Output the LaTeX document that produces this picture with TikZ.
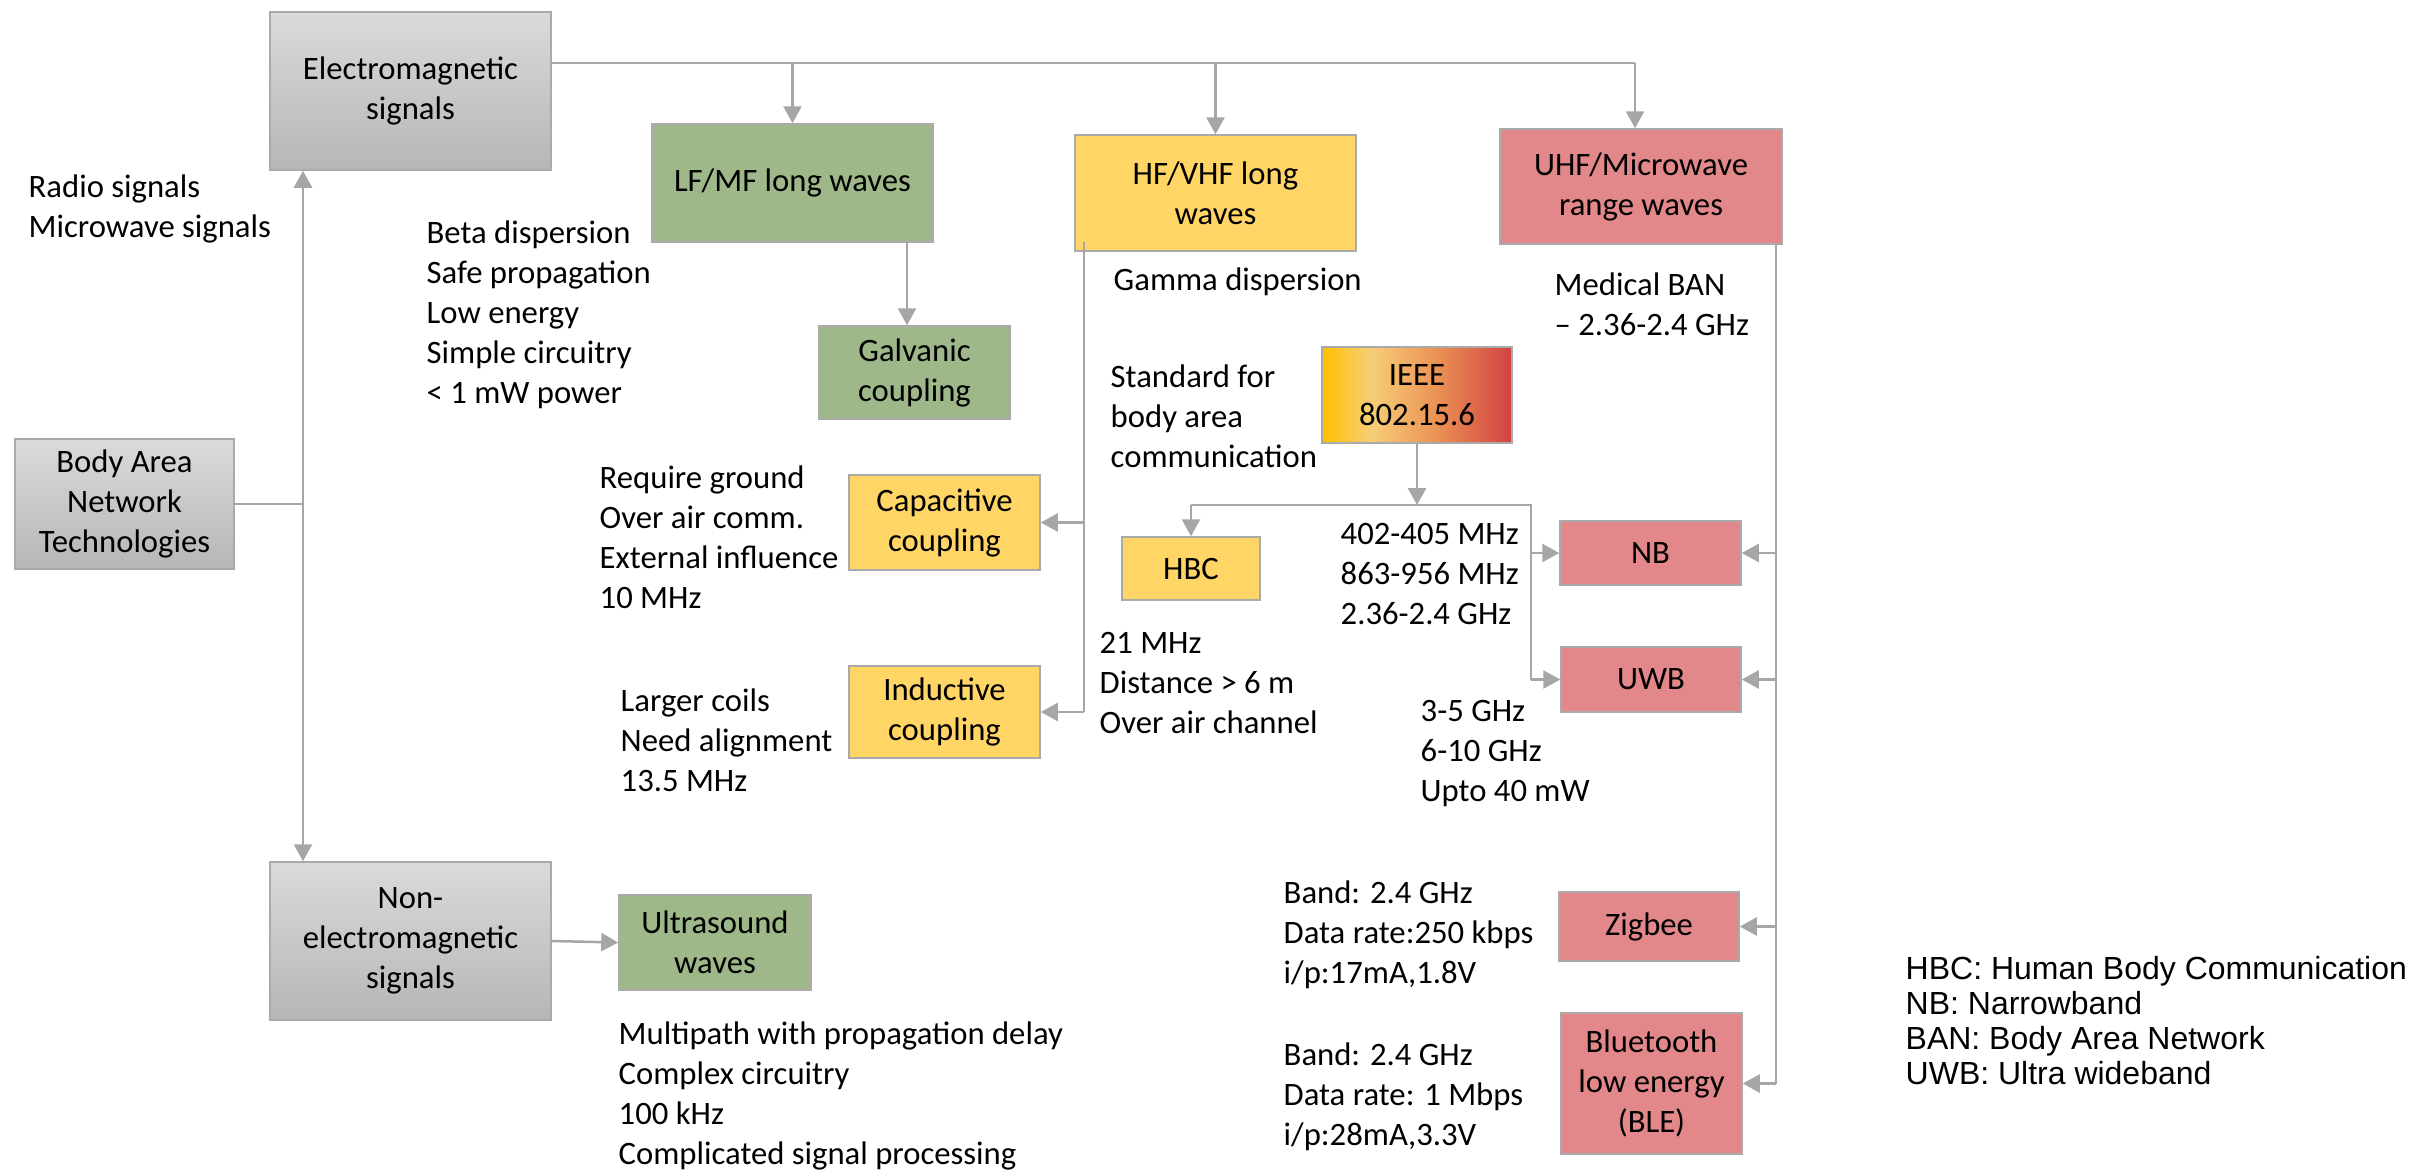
\documentclass[tikz,border=0pt]{standalone}
\usepackage{fontspec}
\setmainfont{Carlito}
\newfontfamily\legendfont{Liberation Sans}
\usetikzlibrary{arrows.meta,calc}
\definecolor{lc}{RGB}{166,166,166}
\definecolor{bd}{RGB}{170,170,170}
\definecolor{gtop}{RGB}{218,218,218}
\definecolor{gbot}{RGB}{182,182,182}
\definecolor{grn}{RGB}{158,184,137}
\definecolor{ylw}{RGB}{255,214,102}
\definecolor{rd}{RGB}{227,136,138}
\definecolor{ieeeA}{RGB}{255,192,0}
\definecolor{ieeeB}{RGB}{247,206,120}
\definecolor{ieeeC}{RGB}{234,146,84}
\definecolor{ieeeD}{RGB}{210,66,66}
\pgfdeclarehorizontalshading{ieeeshade}{100bp}{color(0bp)=(ieeeA); color(25bp)=(ieeeA); color(38bp)=(ieeeB); color(55bp)=(ieeeC); color(75bp)=(ieeeD); color(100bp)=(ieeeD)}
\begin{document}
\begin{tikzpicture}[x=0.1mm,y=-0.1mm,
  bodyfont/.style={font=\fontsize{9.3pt}{11.38pt}\selectfont},
  box/.style={draw=bd, line width=0.15mm, align=center, inner sep=0pt, bodyfont, text=black},
  gbox/.style={box, top color=gtop, bottom color=gbot},
  gnbox/.style={box, fill=grn},
  ybox/.style={box, fill=ylw},
  rbox/.style={box, fill=rd},
  txt/.style={anchor=west, align=left, inner sep=0pt, bodyfont, text=black},
  lgd/.style={anchor=west, align=left, inner sep=0pt, font=\legendfont\fontsize{9.1pt}{9.96pt}\selectfont, text=black},
  ln/.style={draw=lc, line width=0.25mm},
  arr/.style={ln, -{Triangle[length=1.7mm,width=1.8mm]}, color=lc}
]
\fill[white] (0,0) rectangle (2412,1173);
\useasboundingbox (0,0) rectangle (2412,1173);

% boxes
\node[gbox, minimum width=28.1mm, minimum height=15.8mm] (em) at (410.5,91) {Electromagnetic\\signals};
\node[gbox, minimum width=21.9mm, minimum height=13mm] (ban) at (124.5,504) {Body Area\\Network\\Technologies};
\node[gbox, minimum width=28.1mm, minimum height=15.8mm] (nem) at (410.5,941) {Non-\\electromagnetic\\signals};
\node[gnbox, minimum width=28.1mm, minimum height=11.8mm] (lfmf) at (792.5,183) {LF/MF long waves};
\node[ybox, minimum width=28.1mm, minimum height=11.6mm] (hf) at (1215.5,193) {HF/VHF long\\waves};
\node[rbox, minimum width=28.2mm, minimum height=11.5mm] (uhf) at (1641,186.5) {UHF/Microwave\\range waves};
\node[gnbox, minimum width=19.1mm, minimum height=9.3mm] (galv) at (914.5,372.5) {Galvanic\\coupling};
\node[ybox, minimum width=19.1mm, minimum height=9.5mm] (cap) at (944.5,522.5) {Capacitive\\coupling};
\node[ybox, minimum width=19.1mm, minimum height=9.2mm] (ind) at (944.5,712) {Inductive\\coupling};
\node[box, shade, shading=ieeeshade, minimum width=19mm, minimum height=9.6mm] (ieee) at (1417,395) {IEEE\\802.15.6};
\node[ybox, minimum width=13.8mm, minimum height=6.3mm] (hbc) at (1191,568.5) {HBC};
\node[rbox, minimum width=18.1mm, minimum height=6.4mm] (nb) at (1650.5,553) {NB};
\node[rbox, minimum width=18mm, minimum height=6.5mm] (uwb) at (1651,679.5) {UWB};
\node[rbox, minimum width=18mm, minimum height=6.9mm] (zig) at (1649,926.5) {Zigbee};
\node[rbox, minimum width=18.1mm, minimum height=14.1mm] (ble) at (1651.5,1083.5) {Bluetooth\\low energy\\(BLE)};
\node[gnbox, minimum width=19.2mm, minimum height=9.5mm] (us) at (715,942.5) {Ultrasound\\waves};

% texts
\node[txt] (t1) at (28,209) {Radio signals\\Microwave signals};
\node[txt] (t2) at (426,315) {Beta dispersion\\Safe propagation\\Low energy\\Simple circuitry\\< 1 mW power};
\node[txt] (t3) at (1113,282) {Gamma dispersion};
\node[txt] (t4) at (1554,304) {Medical BAN\\– 2.36-2.4 GHz};
\node[txt] (t5) at (1110,416) {Standard for\\body area\\communication};
\node[txt] (t6) at (599,537) {Require ground\\Over air comm.\\External influence\\10 MHz};
\node[txt] (t7) at (1340,574) {402-405 MHz\\863-956 MHz\\2.36-2.4 GHz};
\node[txt] (t8) at (1099,683) {21 MHz\\Distance > 6 m\\Over air channel};
\node[txt] (t9) at (620,740) {Larger coils\\Need alignment\\13.5 MHz};
\node[txt] (t10) at (1420,754) {3-5 GHz\\6-10 GHz\\Upto 40 mW};
\node[txt] (t11) at (1283,935) {Band: 2.4 GHz\\Data rate:250 kbps\\i/p:17mA,1.8V};
\node[txt] (t12) at (1283,1097) {Band: 2.4 GHz\\Data rate: 1 Mbps\\i/p:28mA,3.3V};
\node[txt] (t13) at (618,1096) {Multipath with propagation delay\\Complex circuitry\\100 kHz\\Complicated signal processing};
\node[lgd] (lg) at (1905,1021) {HBC: Human Body Communication\\NB: Narrowband\\BAN: Body Area Network\\UWB: Ultra wideband};

% connectors
\coordinate (j1) at (303,506);
\draw[ln] (ban.east) -- (ban.east -| j1);
\draw[arr] (j1) -- (j1 |- em.south);
\draw[arr] (j1) -- (j1 |- nem.north);

\coordinate (tl) at (1635,63);
\draw[ln] (em.east |- tl) -- (tl);
\draw[arr] (lfmf.north |- tl) -- (lfmf.north);
\draw[arr] (hf.north |- tl) -- (hf.north);
\draw[arr] (tl) -- (tl |- uhf.north);

\coordinate (g1) at (907,0);
\draw[arr] (lfmf.south -| g1) -- (galv.north -| g1);

\coordinate (h1) at (1084,242);
\draw[ln] (h1) -- (h1 |- ind.east);
\draw[arr] (h1 |- cap.east) -- (cap.east);
\draw[arr] (h1 |- ind.east) -- (ind.east);

\coordinate (i2) at (1531,505);
\draw[arr] (ieee.south) -- (ieee.south |- i2);
\draw[ln] (hbc.north |- i2) -- (i2) -- (i2 |- uwb.west);
\draw[arr] (hbc.north |- i2) -- (hbc.north);
\draw[arr] (i2 |- nb.west) -- (nb.west);
\draw[arr] (i2 |- uwb.west) -- (uwb.west);

\coordinate (u1) at (1776,0);
\draw[ln] (u1 |- uhf.south) -- (u1 |- ble.east);
\draw[arr] (u1 |- nb.east) -- (nb.east);
\draw[arr] (u1 |- uwb.east) -- (uwb.east);
\draw[arr] (u1 |- zig.east) -- (zig.east);
\draw[arr] (u1 |- ble.east) -- (ble.east);

\draw[arr] (nem.east) -- (us.west);
\end{tikzpicture}
\end{document}
